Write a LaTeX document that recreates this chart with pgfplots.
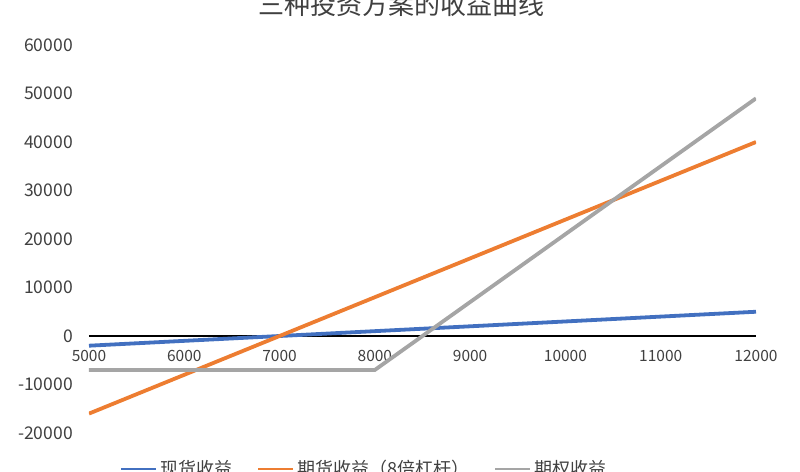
\documentclass[border=0pt]{standalone}
\usepackage{pgfplots}
\pgfplotsset{compat=1.18}
\usepackage{fontspec}
\setmainfont{Noto Sans CJK SC}
\definecolor{spotc}{HTML}{4270C0}
\definecolor{futc}{HTML}{ED7D31}
\definecolor{optc}{HTML}{A5A5A5}
\definecolor{txtc}{HTML}{404040}
\begin{document}
\begin{tikzpicture}[x=1pt,y=1pt]
\useasboundingbox (-89,-38) rectangle (711,433);
\clip (-89,-38) rectangle (711,433);
\begin{axis}[
  at={(0,0)}, anchor=south west,
  scale only axis, width=667pt, height=388pt,
  xmin=5000, xmax=12000, ymin=-20000, ymax=60000,
  axis x line=middle, axis y line=left,
  x axis line style={-, black, line width=1.3pt},
  y axis line style={draw=none},
  xtick={5000,6000,...,12000},
  ytick={-20000,-10000,...,60000},
  major tick length=0pt,
  hide obscured x ticks=false, hide obscured y ticks=false,
  scaled ticks=false,
  /pgf/number format/.cd, 1000 sep={}, assume math mode=true, /pgfplots/.cd,
  yticklabel style={anchor=east, inner sep=0pt, xshift=-16pt, font=\fontsize{17.5}{20}\selectfont, text=txtc},
  xticklabel style={anchor=north, inner sep=0pt, yshift=-14pt, font=\fontsize{15.5}{18}\selectfont, text=txtc},
  legend columns=3,
  legend style={at={(0.412,-0.0928)}, anchor=center, draw=none, fill=none,
    font=\fontsize{18}{20}\selectfont, text=txtc, nodes={inner sep=1pt},
    /tikz/every odd column/.append style={column sep=2pt},
    /tikz/every even column/.append style={column sep=24pt}},
  legend image code/.code={\draw[#1, line width=2pt] (0pt,0pt) -- (35pt,0pt);},
]
\addplot[spotc, line width=3.8pt] coordinates {(5000,-2000) (12000,5000)};
\addlegendentry{现货收益}
\addplot[futc, line width=3.8pt] coordinates {(5000,-16000) (12000,40000)};
\addlegendentry{期货收益（8倍杠杆）}
\addplot[optc, line width=3.8pt] coordinates {(5000,-7000) (8000,-7000) (12000,49000)};
\addlegendentry{期权收益}
\end{axis}
\node[font=\fontsize{26}{28}\selectfont, text=txtc] at (312,428) {三种投资方案的收益曲线};
\end{tikzpicture}
\end{document}
